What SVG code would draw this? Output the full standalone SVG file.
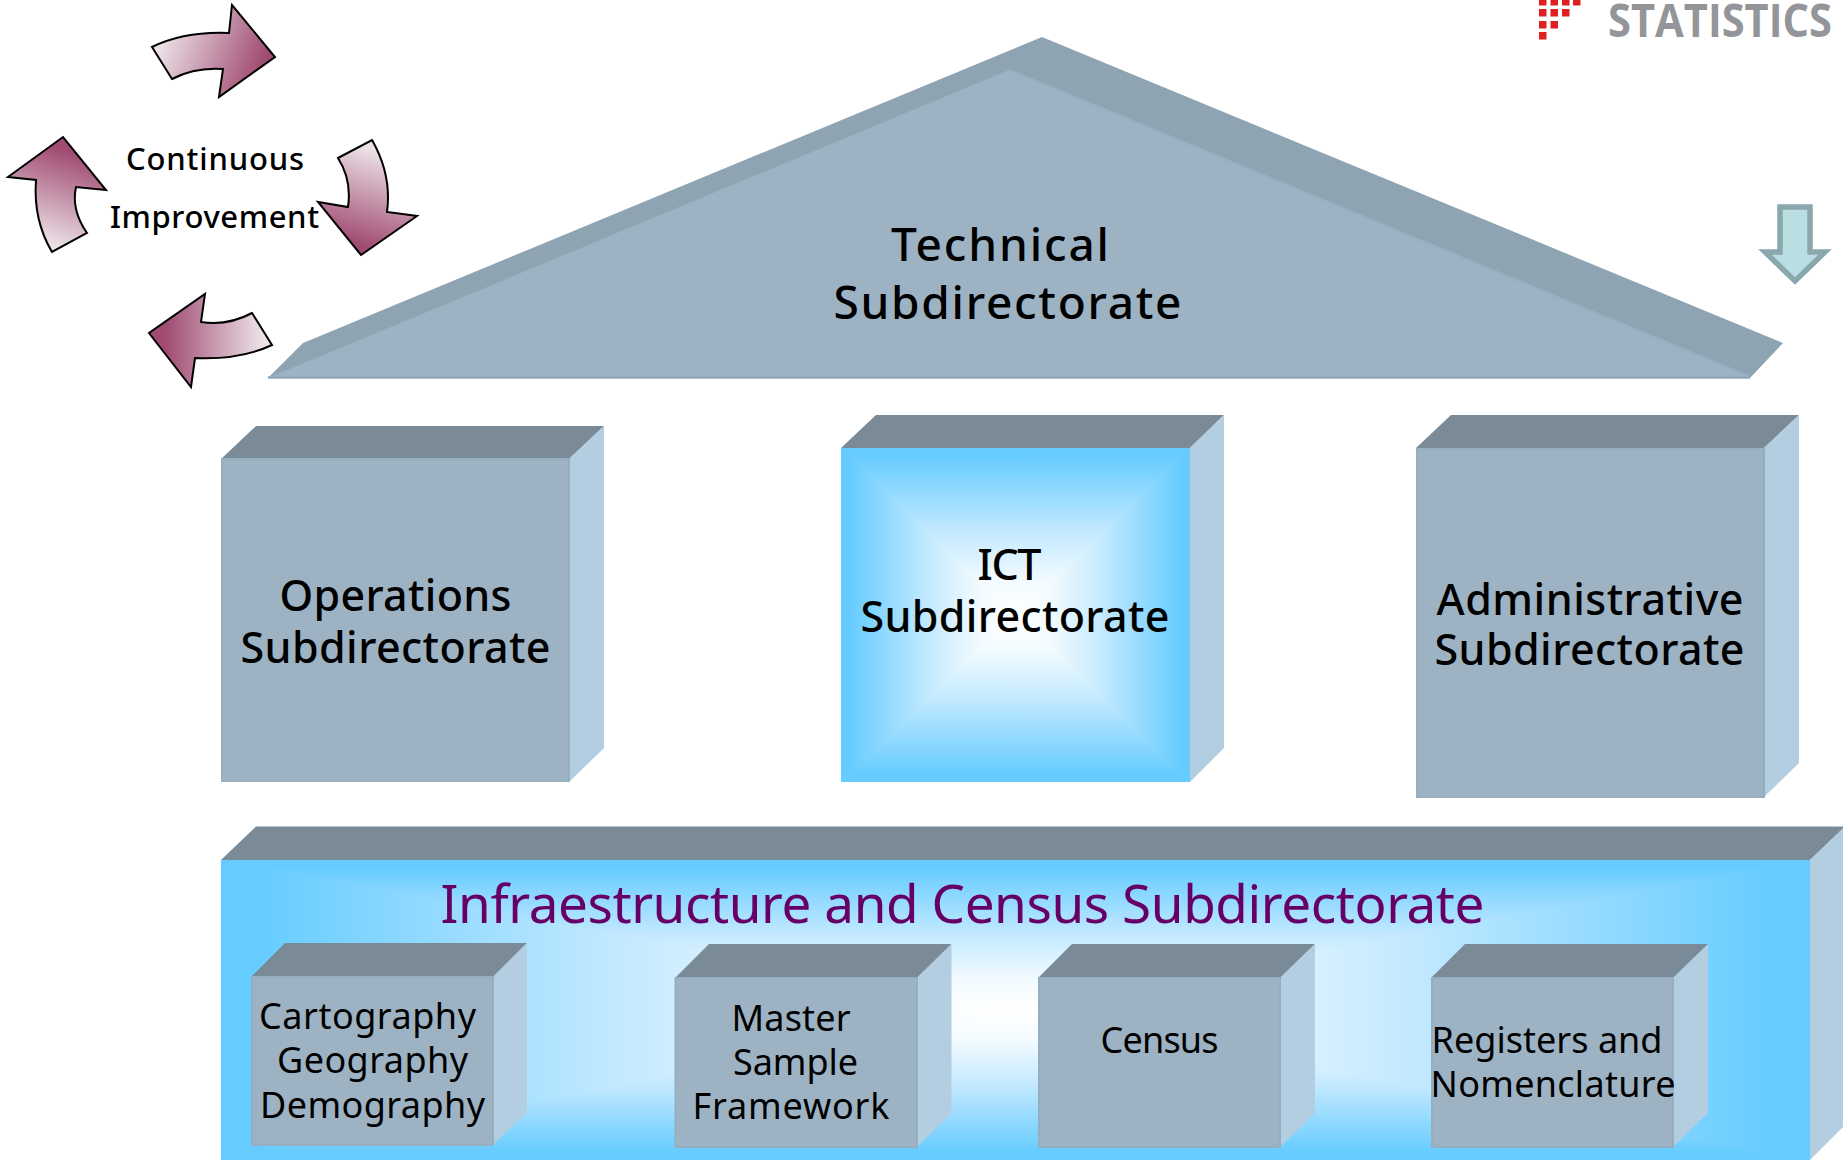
<svg xmlns="http://www.w3.org/2000/svg" width="1843" height="1160" viewBox="0 0 1843 1160">
<style>
text{font-family:"Noto Sans","Open Sans","DejaVu Sans",sans-serif;fill:#000;}
.lg{font-size:46px;font-weight:500;}
.md{font-size:43px;font-weight:500;}
.sm{font-size:36px;}
.ci{font-size:31px;font-weight:500;}
.top{fill:#7a8b97;}
.side{fill:#b3cee0;}
.front{fill:#9db3c3;stroke:#96afc0;stroke-width:2;}
.arr{stroke:#000;stroke-width:2;stroke-linejoin:miter;}
.px{fill:#e02020;}
.g{shape-rendering:crispEdges;}
</style>
<defs>
<linearGradient id="grad"><stop offset="0.05" stop-color="#66ccff"/><stop offset="0.5" stop-color="#c3e9ff"/><stop offset="0.8" stop-color="#f3fbff"/><stop offset="1" stop-color="#fff"/></linearGradient>
<linearGradient id="ictL" href="#grad" gradientUnits="userSpaceOnUse" x1="841" y1="0" x2="1015.5" y2="0"/>
<linearGradient id="ictR" href="#grad" gradientUnits="userSpaceOnUse" x1="1190" y1="0" x2="1015.5" y2="0"/>
<linearGradient id="ictT" href="#grad" gradientUnits="userSpaceOnUse" x1="0" y1="448" x2="0" y2="615"/>
<linearGradient id="ictB" href="#grad" gradientUnits="userSpaceOnUse" x1="0" y1="782" x2="0" y2="615"/>
<linearGradient id="infL" href="#grad" gradientUnits="userSpaceOnUse" x1="221" y1="0" x2="1015.5" y2="0"/>
<linearGradient id="infR" href="#grad" gradientUnits="userSpaceOnUse" x1="1810" y1="0" x2="1015.5" y2="0"/>
<linearGradient id="infT" href="#grad" gradientUnits="userSpaceOnUse" x1="0" y1="860" x2="0" y2="1010"/>
<linearGradient id="infB" href="#grad" gradientUnits="userSpaceOnUse" x1="0" y1="1160" x2="0" y2="1010"/>
<linearGradient id="a1" gradientUnits="userSpaceOnUse" x1="165" y1="30" x2="262" y2="68"><stop offset="0" stop-color="#ece2e7"/><stop offset="1" stop-color="#a04b72"/></linearGradient>
<linearGradient id="a2" gradientUnits="userSpaceOnUse" x1="375" y1="150" x2="345" y2="240"><stop offset="0" stop-color="#ece2e7"/><stop offset="1" stop-color="#a04b72"/></linearGradient>
<linearGradient id="a3" gradientUnits="userSpaceOnUse" x1="262" y1="335" x2="165" y2="335"><stop offset="0" stop-color="#ece2e7"/><stop offset="1" stop-color="#a04b72"/></linearGradient>
<linearGradient id="a4" gradientUnits="userSpaceOnUse" x1="50" y1="245" x2="80" y2="155"><stop offset="0" stop-color="#ece2e7"/><stop offset="1" stop-color="#a04b72"/></linearGradient>
</defs>
<rect width="1843" height="1160" fill="#fff"/>
<g id="logo">
<rect class="px" x="1539" y="-2" width="7.5" height="7.5"/><rect class="px" x="1550.5" y="-2" width="7.5" height="7.5"/><rect class="px" x="1562" y="-2" width="7.5" height="7.5"/><rect class="px" x="1573" y="-2" width="7.5" height="7.5"/>
<rect class="px" x="1539" y="9" width="7.5" height="7.5"/><rect class="px" x="1550.5" y="9" width="7.5" height="7.5"/><rect class="px" x="1562" y="9" width="7.5" height="7.5"/>
<rect class="px" x="1539" y="21" width="7.5" height="7.5"/><rect class="px" x="1550.5" y="21" width="7.5" height="7.5"/>
<rect class="px" x="1539" y="32" width="7.5" height="7.5"/>
<text x="1608" y="37" textLength="224" lengthAdjust="spacingAndGlyphs" style="font-family:'Open Sans',sans-serif;font-size:47px;font-weight:700;fill:#939598">STATISTICS</text>
</g>
<g id="improvement-cycle">
<path class="arr" fill="url(#a1)" d="M152,47 Q185,31 229,33 L232,5 L275,57 L219,97 L223,69 Q195,67 172,79 Z"/>
<path class="arr" fill="url(#a2)" d="M372,140 Q392,175 387,212 L417,216 L361,255 L318,202 L348,207 Q352,180 338,158 Z"/>
<path class="arr" fill="url(#a3)" d="M252,313 Q228,326 201,322 L205,294 L149,333 L191,387 L195,358 Q240,360 272,345 Z"/>
<path class="arr" fill="url(#a4)" d="M52,252 Q33,220 36,180 L8,177 L63,137 L106,190 L76,187 Q71,210 87,233 Z"/>
<text class="ci" x="215" y="170" text-anchor="middle" textLength="178">Continuous</text>
<text class="ci" x="214.500" y="228" text-anchor="middle" textLength="209">Improvement</text>
</g>
<g id="technical">
<polygon points="1042,37 1783,343 1750,378 268,378 303,343" fill="#8fa4b2"/>
<polygon points="1009,70 1750,378 268,378" fill="#9db3c3"/>
<path d="M1009,70 L1750,377" fill="none" stroke="#97b0c2" stroke-width="2.500"/>
<path d="M268,377.500 L1750,377.500" fill="none" stroke="#8fa9ba" stroke-width="2.500"/>
<text class="lg" x="1000" y="261" text-anchor="middle" textLength="218">Technical</text>
<text class="lg" x="1007.500" y="319" text-anchor="middle" textLength="348">Subdirectorate</text>
</g>
<g id="down-arrow">
<polygon points="1780,207 1810,207 1810,252 1825,252 1795,281 1765,252 1780,252" fill="#b9dfe3" stroke="#8aa7ad" stroke-width="5.500"/>
</g>
<g id="operations">
<polygon class="top" points="221,459 256,426 604,426 569,459"/>
<polygon class="side" points="569,459 604,426 604,748 569,782"/>
<rect class="front" x="222" y="459" width="347" height="322"/>
<text class="md" x="395.500" y="611" text-anchor="middle" textLength="232">Operations</text>
<text class="md" x="395.500" y="663" text-anchor="middle" textLength="310">Subdirectorate</text>
</g>
<g id="ict">
<polygon class="top" points="841,448 876,415 1224,415 1190,448"/>
<polygon class="side" points="1190,448 1224,415 1224,748 1190,782"/>
<rect x="841" y="448" width="349" height="334" fill="#66ccff"/>
<polygon class="g" points="841,448 841,782 1015.5,615" fill="url(#ictL)"/>
<polygon class="g" points="1190,448 1190,782 1015.5,615" fill="url(#ictR)"/>
<polygon class="g" points="841,448 1190,448 1015.5,615" fill="url(#ictT)"/>
<polygon class="g" points="841,782 1190,782 1015.5,615" fill="url(#ictB)"/>
<text class="md" x="1009.500" y="580" text-anchor="middle" textLength="64">ICT</text>
<text class="md" x="1015" y="632" text-anchor="middle" textLength="309">Subdirectorate</text>
</g>
<g id="administrative">
<polygon class="top" points="1416,448 1451,415 1799,415 1764,448"/>
<polygon class="side" points="1764,448 1799,415 1799,763 1764,797"/>
<rect class="front" x="1417" y="449" width="347" height="348"/>
<text class="md" x="1590" y="615" text-anchor="middle" textLength="307">Administrative</text>
<text class="md" x="1589.500" y="665" text-anchor="middle" textLength="310">Subdirectorate</text>
</g>
<g id="infrastructure">
<polygon class="top" points="221,860 256,826.500 1845,826.500 1810,860"/>
<polygon class="side" points="1810,860 1845,826.500 1845,1125 1810,1160"/>
<rect x="221" y="860" width="1589" height="300" fill="#66ccff"/>
<polygon class="g" points="221,860 221,1160 1015.500,1010" fill="url(#infL)"/>
<polygon class="g" points="1810,860 1810,1160 1015.500,1010" fill="url(#infR)"/>
<polygon class="g" points="221,860 1810,860 1015.500,1010" fill="url(#infT)"/>
<polygon class="g" points="221,1160 1810,1160 1015.500,1010" fill="url(#infB)"/>
<text x="962.500" y="923" text-anchor="middle" textLength="1044" style="font-size:53px;fill:#660066">Infraestructure and Census Subdirectorate</text>
</g>
<g id="cartography">
<polygon class="top" points="251,977 285,943 527,943 493,977"/>
<polygon class="side" points="493,977 527,943 527,1112 493,1145"/>
<rect class="front" x="252" y="977" width="241" height="168"/>
<text class="sm" x="367.500" y="1029" text-anchor="middle" textLength="217">Cartography</text>
<text class="sm" x="372.500" y="1073" text-anchor="middle" textLength="191">Geography</text>
<text class="sm" x="372.500" y="1118" text-anchor="middle" textLength="225">Demography</text>
</g>
<g id="master-sample">
<polygon class="top" points="675,978 709,944 951.500,944 917,978"/>
<polygon class="side" points="917,978 951.500,944 951.500,1113 917,1147"/>
<rect class="front" x="675.500" y="978" width="241.500" height="169"/>
<text class="sm" x="791" y="1031" text-anchor="middle" textLength="119">Master</text>
<text class="sm" x="795.500" y="1075" text-anchor="middle" textLength="125">Sample</text>
<text class="sm" x="791" y="1119" text-anchor="middle" textLength="197">Framework</text>
</g>
<g id="census">
<polygon class="top" points="1038,978 1072,944 1315,944 1280,978"/>
<polygon class="side" points="1280,978 1315,944 1315,1113 1280,1147"/>
<rect class="front" x="1039" y="978" width="241" height="169"/>
<text class="sm" x="1159.500" y="1053" text-anchor="middle" textLength="118">Census</text>
</g>
<g id="registers">
<polygon class="top" points="1431,978 1465,944 1708,944 1673,978"/>
<polygon class="side" points="1673,978 1708,944 1708,1113 1673,1147"/>
<rect class="front" x="1432" y="978" width="241" height="169"/>
<text class="sm" x="1547" y="1053" text-anchor="middle" textLength="231">Registers and</text>
<text class="sm" x="1553" y="1097" text-anchor="middle" textLength="245">Nomenclature</text>
</g>
<g id="connectors"/>
</svg>
